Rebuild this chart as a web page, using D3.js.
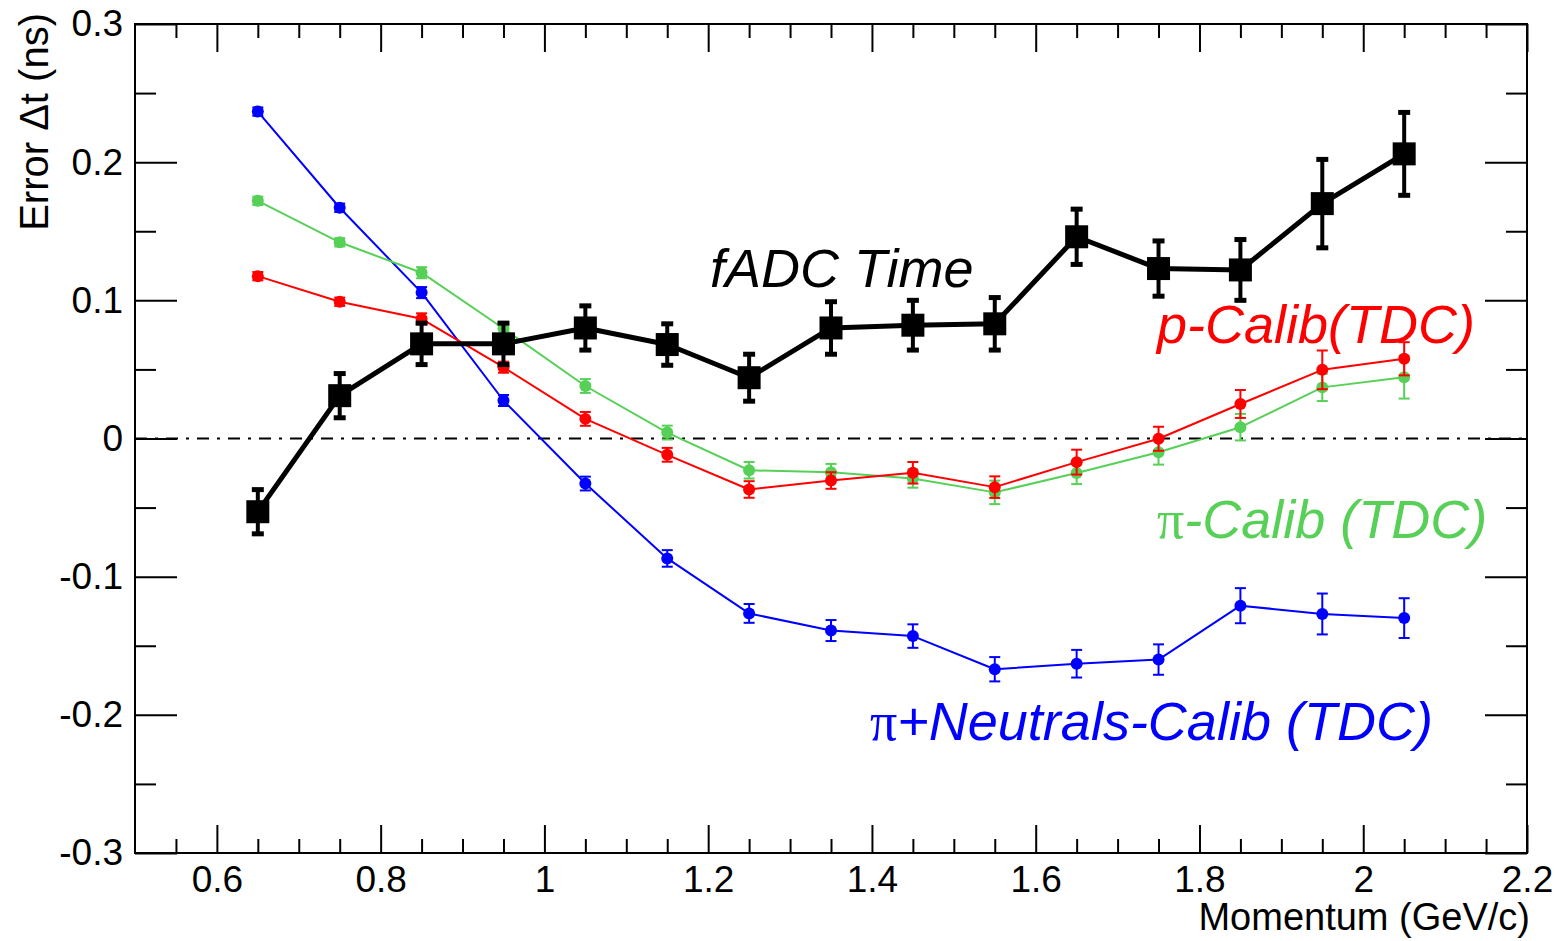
<!DOCTYPE html>
<html>
<head>
<meta charset="utf-8">
<script src="https://cdn.jsdelivr.net/npm/d3@7"></script>
<style>
  html, body { margin: 0; padding: 0; background: #fff; }
  svg { display: block; font-family: "Liberation Sans", Arial, Helvetica, sans-serif; }
</style>
</head>
<body>
<svg id="chart" width="1563" height="941"></svg>
<script>
// ---- data ----
const momentum = [0.65, 0.75, 0.85, 0.95, 1.05, 1.15, 1.25, 1.35, 1.45, 1.55, 1.65, 1.75, 1.85, 1.95, 2.05];
const fadcTime = [-0.053, 0.031, 0.0685, 0.0685, 0.080, 0.068, 0.044, 0.080, 0.082, 0.083, 0.146, 0.123, 0.122, 0.170, 0.206];
const fadcErr  = [0.016, 0.016, 0.015, 0.015, 0.016, 0.015, 0.017, 0.019, 0.018, 0.019, 0.020, 0.020, 0.022, 0.032, 0.030];
const pCalib   = [0.1175, 0.099, 0.0866, 0.0516, 0.0142, -0.0118, -0.0369, -0.0304, -0.0248, -0.0352, -0.0171, -0.0002, 0.025, 0.0497, 0.0577];
const pErr     = [0.003, 0.003, 0.004, 0.004, 0.005, 0.005, 0.006, 0.006, 0.0078, 0.0078, 0.009, 0.0087, 0.0101, 0.014, 0.012];
const piCalib  = [0.172, 0.142, 0.120, 0.0796, 0.038, 0.0043, -0.023, -0.0244, -0.029, -0.039, -0.025, -0.0099, 0.0082, 0.037, 0.0444];
const piErr    = [0.003, 0.003, 0.004, 0.004, 0.005, 0.005, 0.006, 0.006, 0.0066, 0.0085, 0.008, 0.009, 0.0096, 0.0099, 0.0155];
const neutCalib = [0.2366, 0.167, 0.1056, 0.0275, -0.0326, -0.0868, -0.1266, -0.139, -0.143, -0.167, -0.163, -0.160, -0.121, -0.127, -0.130];
const neutErr   = [0.003, 0.003, 0.004, 0.004, 0.005, 0.006, 0.0068, 0.0076, 0.0085, 0.0088, 0.010, 0.011, 0.0127, 0.0148, 0.0144];

const xMajorTicks = [0.6, 0.8, 1.0, 1.2, 1.4, 1.6, 1.8, 2.0, 2.2];
const xTickLabels = ["0.6", "0.8", "1", "1.2", "1.4", "1.6", "1.8", "2", "2.2"];
const xMinorTicks = [0.55, 0.65, 0.7, 0.75, 0.85, 0.9, 0.95, 1.05, 1.1, 1.15, 1.25, 1.3, 1.35, 1.45, 1.5, 1.55, 1.65, 1.7, 1.75, 1.85, 1.9, 1.95, 2.05, 2.1, 2.15];
const yMajorTicks = [-0.3, -0.2, -0.1, 0, 0.1, 0.2, 0.3];
const yTickLabels = ["-0.3", "-0.2", "-0.1", "0", "0.1", "0.2", "0.3"];
const yMinorTicks = [-0.25, -0.15, -0.05, 0.05, 0.15, 0.25];

const xTitle = "Momentum (GeV/c)";
const yTitle = "Error \u0394t (ns)";

// ---- layout ----
const L = 135, R = 1527, T = 24, B = 853;
const svg = d3.select("#chart");
const x = d3.scaleLinear().domain([0.5, 2.2]).range([L, R]);
const y = d3.scaleLinear().domain([-0.3, 0.3]).range([B, T]);

function styleAxis(g) {
  g.select(".domain").remove();
  g.selectAll(".tick line").attr("stroke", "#000").attr("stroke-width", 2);
  g.selectAll(".tick text").attr("fill", "#000").style("font-size", "37px")
    .style("font-family", "'Liberation Sans', Arial, sans-serif");
}

// bottom axis (major + labels)
svg.append("g").attr("transform", `translate(0,${B})`)
  .call(d3.axisBottom(x).tickValues(xMajorTicks).tickSize(-28).tickPadding(14)
    .tickFormat((d, i) => xTickLabels[i]))
  .call(styleAxis)
  .call(g => g.selectAll(".tick text").attr("dy", "0.71em").attr("y", 13));
svg.append("g").attr("transform", `translate(0,${B})`)
  .call(d3.axisBottom(x).tickValues(xMinorTicks).tickSize(-14).tickFormat(""))
  .call(styleAxis);
// top axis ticks
svg.append("g").attr("transform", `translate(0,${T})`)
  .call(d3.axisTop(x).tickValues(xMajorTicks).tickSize(-28).tickFormat(""))
  .call(styleAxis);
svg.append("g").attr("transform", `translate(0,${T})`)
  .call(d3.axisTop(x).tickValues(xMinorTicks).tickSize(-14).tickFormat(""))
  .call(styleAxis);
// left axis
svg.append("g").attr("transform", `translate(${L},0)`)
  .call(d3.axisLeft(y).tickValues(yMajorTicks).tickSize(-42).tickPadding(13)
    .tickFormat((d, i) => yTickLabels[i]))
  .call(styleAxis)
  .call(g => g.selectAll(".tick text").attr("x", -12));
svg.append("g").attr("transform", `translate(${L},0)`)
  .call(d3.axisLeft(y).tickValues(yMinorTicks).tickSize(-21).tickFormat(""))
  .call(styleAxis);
// right axis ticks
svg.append("g").attr("transform", `translate(${R},0)`)
  .call(d3.axisRight(y).tickValues(yMajorTicks).tickSize(-42).tickFormat(""))
  .call(styleAxis);
svg.append("g").attr("transform", `translate(${R},0)`)
  .call(d3.axisRight(y).tickValues(yMinorTicks).tickSize(-21).tickFormat(""))
  .call(styleAxis);

// frame
svg.append("rect").attr("x", L).attr("y", T).attr("width", R - L).attr("height", B - T)
  .attr("fill", "none").attr("stroke", "#000").attr("stroke-width", 2);

// axis titles
svg.append("text").attr("x", 1530).attr("y", 930).attr("text-anchor", "end")
  .style("font-size", "38px").attr("fill", "#000").text(xTitle);
svg.append("text").attr("transform", "translate(48,13) rotate(-90)").attr("text-anchor", "end")
  .style("font-size", "40px").attr("fill", "#000").text(yTitle);

// zero line
svg.append("line").attr("x1", x(0.5)).attr("x2", x(2.2)).attr("y1", y(0)).attr("y2", y(0))
  .attr("stroke", "#000").attr("stroke-width", 2).attr("stroke-dasharray", "12,8,3,8");

// series drawing
function drawSeries(vals, errs, color, opts) {
  const g = svg.append("g");
  const pts = momentum.map((m, i) => ({ m, v: vals[i], e: errs[i] }));
  g.append("path").datum(pts)
    .attr("d", d3.line().x(d => x(d.m)).y(d => y(d.v)))
    .attr("fill", "none").attr("stroke", color).attr("stroke-width", opts.lw)
    .attr("stroke-linejoin", "round");
  const eb = g.selectAll(".eb").data(pts).enter().append("g");
  eb.append("line").attr("x1", d => x(d.m)).attr("x2", d => x(d.m))
    .attr("y1", d => y(d.v - d.e)).attr("y2", d => y(d.v + d.e))
    .attr("stroke", color).attr("stroke-width", opts.elw);
  [1, -1].forEach(s => {
    eb.append("line").attr("x1", d => x(d.m) - opts.cap / 2).attr("x2", d => x(d.m) + opts.cap / 2)
      .attr("y1", d => y(d.v + s * d.e)).attr("y2", d => y(d.v + s * d.e))
      .attr("stroke", color).attr("stroke-width", opts.capw);
  });
  if (opts.square) {
    g.selectAll(".mk").data(pts).enter().append("rect")
      .attr("x", d => x(d.m) - opts.size / 2).attr("y", d => y(d.v) - opts.size / 2)
      .attr("width", opts.size).attr("height", opts.size).attr("fill", color);
  } else {
    g.selectAll(".mk").data(pts).enter().append("circle")
      .attr("cx", d => x(d.m)).attr("cy", d => y(d.v)).attr("r", opts.size / 2).attr("fill", color);
  }
}

const thin = { lw: 2, elw: 2, cap: 11, capw: 2, size: 12 };
drawSeries(neutCalib, neutErr, "#0000ff", thin);
drawSeries(piCalib, piErr, "#57d057", thin);
drawSeries(pCalib, pErr, "#ff0000", thin);
drawSeries(fadcTime, fadcErr, "#000000", { lw: 5, elw: 4, cap: 12, capw: 5, size: 23, square: true });

// labels
function label(xp, yp, color, parts) {
  const t = svg.append("text").attr("x", xp).attr("y", yp).attr("fill", color).style("font-size", "54px");
  parts.forEach(p => {
    const ts = t.append("tspan").text(p.t);
    if (p.greek) ts.style("font-family", "'Liberation Serif', 'DejaVu Serif', serif").style("font-style", "normal");
    else ts.style("font-style", "italic");
  });
}
label(710, 287, "#000", [{ t: "fADC Time" }]);
label(1157, 343, "#ff0000", [{ t: "p-Calib(TDC)" }]);
label(1157, 538, "#57d057", [{ t: "\u03c0", greek: true }, { t: "-Calib (TDC)" }]);
label(870, 740, "#0000ff", [{ t: "\u03c0", greek: true }, { t: "+Neutrals-Calib (TDC)" }]);
</script>
</body>
</html>
